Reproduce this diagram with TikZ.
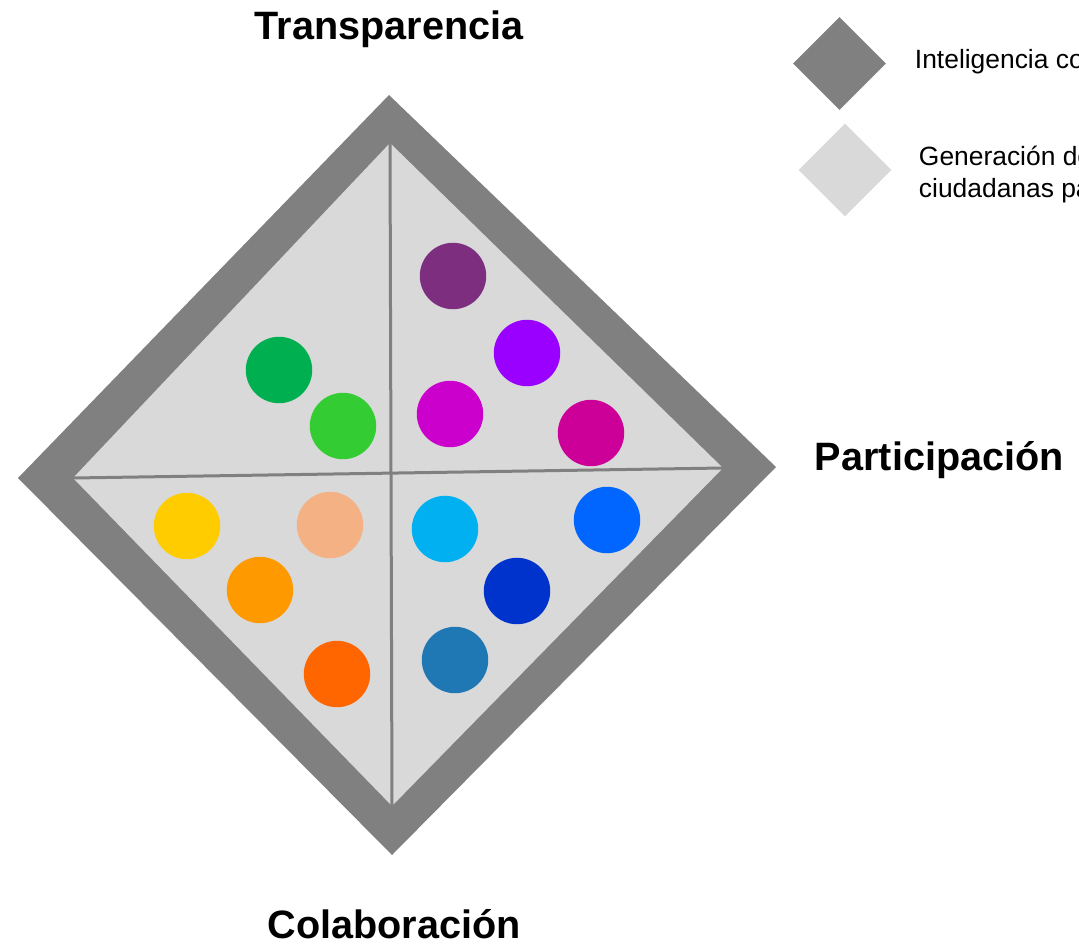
\documentclass[tikz,border=0pt]{standalone}
\usepackage{fontspec}
\setmainfont{Liberation Sans}
\usetikzlibrary{shapes.geometric}

\definecolor{frame}{HTML}{808080}
\definecolor{field}{HTML}{D9D9D9}
\definecolor{cPurple}{HTML}{7E2E7E}
\definecolor{cViolet}{HTML}{9900FF}
\definecolor{cMagenta}{HTML}{CC00CC}
\definecolor{cBerry}{HTML}{CC0099}
\definecolor{cDarkGreen}{HTML}{00B050}
\definecolor{cGreen}{HTML}{33CC33}
\definecolor{cYellow}{HTML}{FFCC00}
\definecolor{cPeach}{HTML}{F4B183}
\definecolor{cOrange}{HTML}{FF9900}
\definecolor{cRed}{HTML}{FF6600}
\definecolor{cSky}{HTML}{00B0F0}
\definecolor{cBlue}{HTML}{0066FF}
\definecolor{cNavy}{HTML}{0033CC}
\definecolor{cSteel}{HTML}{1F77B4}

\begin{document}
\begin{tikzpicture}[x=0.25mm, y=-0.25mm,
    dot/.style={circle, minimum size=16.6mm, inner sep=0pt, fill=#1},
    key/.style={diamond, aspect=1, minimum width=23.3mm, minimum height=23.3mm, inner sep=0pt, fill=#1},
    axis/.style={font=\fontsize{9.9mm}{11mm}\selectfont\bfseries},
    legend/.style={font=\fontsize{6.6mm}{8mm}\selectfont, anchor=base west}]

    \useasboundingbox (0,0) rectangle (1079,945);

    % Corners of the frame and of the field
    \coordinate (oT) at (389,95);
    \coordinate (oR) at (776,467);
    \coordinate (oB) at (392,855);
    \coordinate (oL) at (18,478);
    \coordinate (iT) at (390,143);
    \coordinate (iR) at (723,468);
    \coordinate (iB) at (392,806);
    \coordinate (iL) at (73,478);

    % Draw the frame and the field
    \fill[frame] (oT) -- (oR) -- (oB) -- (oL) -- cycle;
    \fill[field] (iT) -- (iR) -- (iB) -- (iL) -- cycle;

    % Split the field in four
    \draw[frame, line width=0.75mm] (iT) -- (iB);
    \draw[frame, line width=0.75mm] (iL) -- (iR);

    % Dots, upper right
    \node[dot=cPurple] (d1) at (453,276) {};
    \node[dot=cViolet] (d2) at (527,353) {};
    \node[dot=cMagenta] (d3) at (450,414) {};
    \node[dot=cBerry] (d4) at (591,433) {};

    % Dots, upper left
    \node[dot=cDarkGreen] (d5) at (279,370) {};
    \node[dot=cGreen] (d6) at (343,426) {};

    % Dots, lower left
    \node[dot=cYellow] (d7) at (187,526) {};
    \node[dot=cPeach] (d8) at (330,525) {};
    \node[dot=cOrange] (d9) at (260,590) {};
    \node[dot=cRed] (d10) at (337,674) {};

    % Dots, lower right
    \node[dot=cSky] (d11) at (445,529) {};
    \node[dot=cBlue] (d12) at (607,520) {};
    \node[dot=cNavy] (d13) at (517,591) {};
    \node[dot=cSteel] (d14) at (455,660) {};

    % Label the corners
    \node[axis, anchor=base] (top) at (389,40) {Transparencia};
    \node[axis, anchor=base west] (right) at (810,470) {Participación};
    \node[axis, anchor=base] (bottom) at (394,938) {Colaboración};

    % Legend
    \node[key=frame] (k1) at (839.5,63.5) {};
    \node[key=field] (k2) at (845,170) {};
    \node[legend] (l1) at (910,68) {Inteligencia colectiva};
    \node[legend] (l2) at (914,165) {Generación de ideas};
    \node[legend] (l3) at (914,197) {ciudadanas para};

\end{tikzpicture}
\end{document}
